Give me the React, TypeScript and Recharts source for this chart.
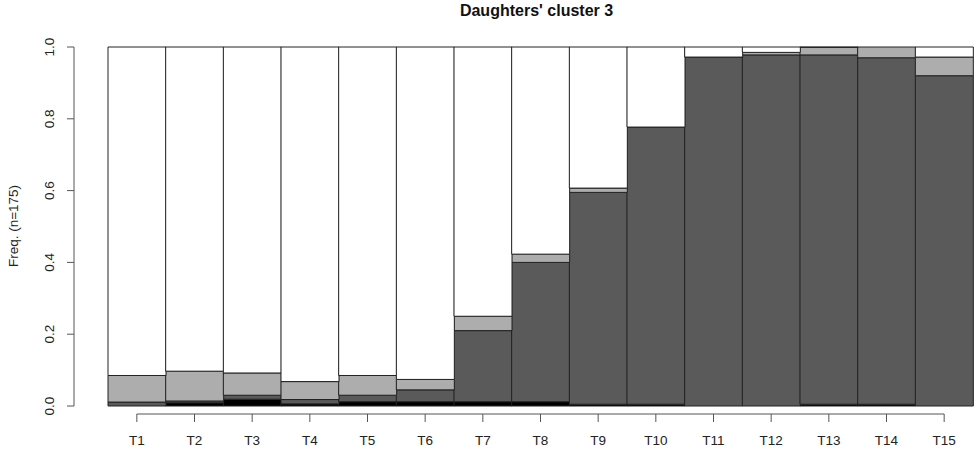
import { BarChart, Bar, XAxis, YAxis } from "recharts";

const periods = ["T1", "T2", "T3", "T4", "T5", "T6", "T7", "T8", "T9", "T10", "T11", "T12", "T13", "T14", "T15"];
// share of each state per period (bottom to top)
const stateBlack = [0, 0.009, 0.019, 0.006, 0.012, 0.012, 0.012, 0.012, 0.005, 0.005, 0, 0, 0.005, 0.005, 0];
const stateDark = [0.011, 0.005, 0.011, 0.012, 0.018, 0.033, 0.198, 0.388, 0.59, 0.772, 0.972, 0.978, 0.973, 0.965, 0.92];
const stateLight = [0.074, 0.083, 0.062, 0.05, 0.055, 0.029, 0.04, 0.023, 0.012, 0, 0, 0.007, 0.021, 0.03, 0.052];
const stateWhite = [0.915, 0.903, 0.908, 0.932, 0.915, 0.926, 0.75, 0.577, 0.393, 0.223, 0.028, 0.015, 0.001, 0, 0.028];
const yTicks = [0, 0.2, 0.4, 0.6, 0.8, 1];

const data = periods.map((p, i) => ({
  period: p,
  black: stateBlack[i],
  dark: stateDark[i],
  light: stateLight[i],
  white: stateWhite[i],
}));

const W = 977;
const H = 455;
const M = { top: 47, right: 4, left: 0, bottom: 0 };
const Y_W = 108;
const X_H = 49;
const plotH = H - M.top - M.bottom - X_H;
const plotW = W - M.left - M.right - Y_W;
const band = plotW / periods.length;
const font = "'Liberation Sans', Arial, sans-serif";
const fs = 13.5;

function YTick(props: any) {
  const { x, y, payload } = props;
  const ax = x - 34;
  return (
    <g>
      {payload.value === 0 && <line x1={ax} x2={ax} y1={y} y2={y - plotH} stroke="#555" />}
      <line x1={ax} x2={ax - 7} y1={y} y2={y} stroke="#555" />
      <text
        x={ax - 20}
        y={y}
        transform={`rotate(-90 ${ax - 20} ${y})`}
        textAnchor="middle"
        fontSize={fs}
        fontFamily={font}
        fill="#222"
      >
        {payload.value.toFixed(1)}
      </text>
    </g>
  );
}

function XTick(props: any) {
  const { x, y, payload, index } = props;
  const ay = y + 8;
  return (
    <g>
      {index === 0 && (
        <line x1={x} x2={x + band * (periods.length - 1)} y1={ay} y2={ay} stroke="#555" />
      )}
      <line x1={x} x2={x} y1={ay} y2={ay + 8} stroke="#555" />
      <text x={x} y={y + 39} textAnchor="middle" fontSize={fs} fontFamily={font} fill="#222">
        {payload.value}
      </text>
    </g>
  );
}

export default function App() {
  return (
    <div style={{ position: "absolute", left: 0, top: 0, width: W, height: H, background: "#fff" }}>
      <div
        style={{
          position: "absolute",
          top: 2,
          left: 104,
          width: plotW,
          textAlign: "center",
          fontFamily: font,
          fontWeight: "bold",
          fontSize: 16,
          color: "#111",
        }}
      >
        Daughters' cluster 3
      </div>
      <div
        style={{
          position: "absolute",
          left: 13,
          top: 226,
          transform: "translate(-50%, -50%) rotate(-90deg)",
          whiteSpace: "nowrap",
          fontFamily: font,
          fontSize: fs,
          color: "#222",
        }}
      >
        Freq. (n=175)
      </div>
      <BarChart width={W} height={H} data={data} margin={M} barCategoryGap={0}>
        <XAxis
          dataKey="period"
          height={X_H}
          axisLine={false}
          tickLine={false}
          tickSize={0}
          tickMargin={0}
          interval={0}
          tick={<XTick />}
        />
        <YAxis
          width={Y_W}
          domain={[0, 1]}
          ticks={yTicks}
          axisLine={false}
          tickLine={false}
          tickSize={0}
          tickMargin={0}
          tick={<YTick />}
        />
        <Bar dataKey="black" stackId="s" fill="#000000" stroke="#222" isAnimationActive={false} />
        <Bar dataKey="dark" stackId="s" fill="#5a5a5a" stroke="#222" isAnimationActive={false} />
        <Bar dataKey="light" stackId="s" fill="#adadad" stroke="#222" isAnimationActive={false} />
        <Bar dataKey="white" stackId="s" fill="#ffffff" stroke="#222" isAnimationActive={false} />
      </BarChart>
    </div>
  );
}
